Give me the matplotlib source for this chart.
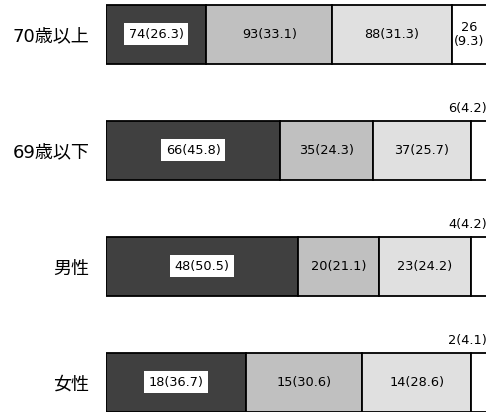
import matplotlib
matplotlib.use("Agg")
import matplotlib.pyplot as plt
import numpy as np

plt.rcParams['font.family'] = ['DejaVu Sans', 'Noto Sans CJK JP']

groups = ["70歳以上", "69歳以下", "男性", "女性"]
counts = [
    [74, 93, 88, 26],
    [66, 35, 37, 6],
    [48, 20, 23, 4],
    [18, 15, 14, 2],
]
percents = [
    [26.3, 33.1, 31.3, 9.3],
    [45.8, 24.3, 25.7, 4.2],
    [50.5, 21.1, 24.2, 4.2],
    [36.7, 30.6, 28.6, 4.1],
]
colors = ["#404040", "#c0c0c0", "#e0e0e0", "#ffffff"]

W, H = 486, 412
fig = plt.figure(figsize=(W / 100, H / 100), dpi=100)
ax = fig.add_axes([106 / W, 0, 381 / W, 1])

bar_h = 0.51
fs = 9.3
for i, (cnt, pct) in enumerate(zip(counts, percents)):
    left = 0.0
    for j, (c, p) in enumerate(zip(cnt, pct)):
        ax.barh(i, p, left=left, height=bar_h, color=colors[j],
                edgecolor="black", linewidth=1.3)
        cx = left + p / 2
        if j == 0:
            ax.text(cx, i, f"{c}({p})", ha="center", va="center", fontsize=fs,
                    bbox=dict(boxstyle="square,pad=0.35", fc="white", ec="none"))
        elif j == 3:
            if p > 6:
                ax.text(cx, i, f"{c}\n({p})", ha="center", va="center",
                        fontsize=fs, linespacing=1.1)
            else:
                ax.text(left + p, i - bar_h / 2 - 0.11, f"{c}({p})",
                        ha="right", va="center", fontsize=fs)
        else:
            ax.text(cx, i, f"{c}({p})", ha="center", va="center", fontsize=fs)
        left += p

ax.set_xlim(0, 100)
ax.set_ylim(3.255, -0.297)
ax.set_yticks(range(len(groups)))
ax.set_yticklabels(groups, fontsize=13)
ax.tick_params(axis="y", length=0, pad=12)
ax.set_xticks([])
for s in ax.spines.values():
    s.set_visible(False)

fig.savefig("out.png", dpi=100)
